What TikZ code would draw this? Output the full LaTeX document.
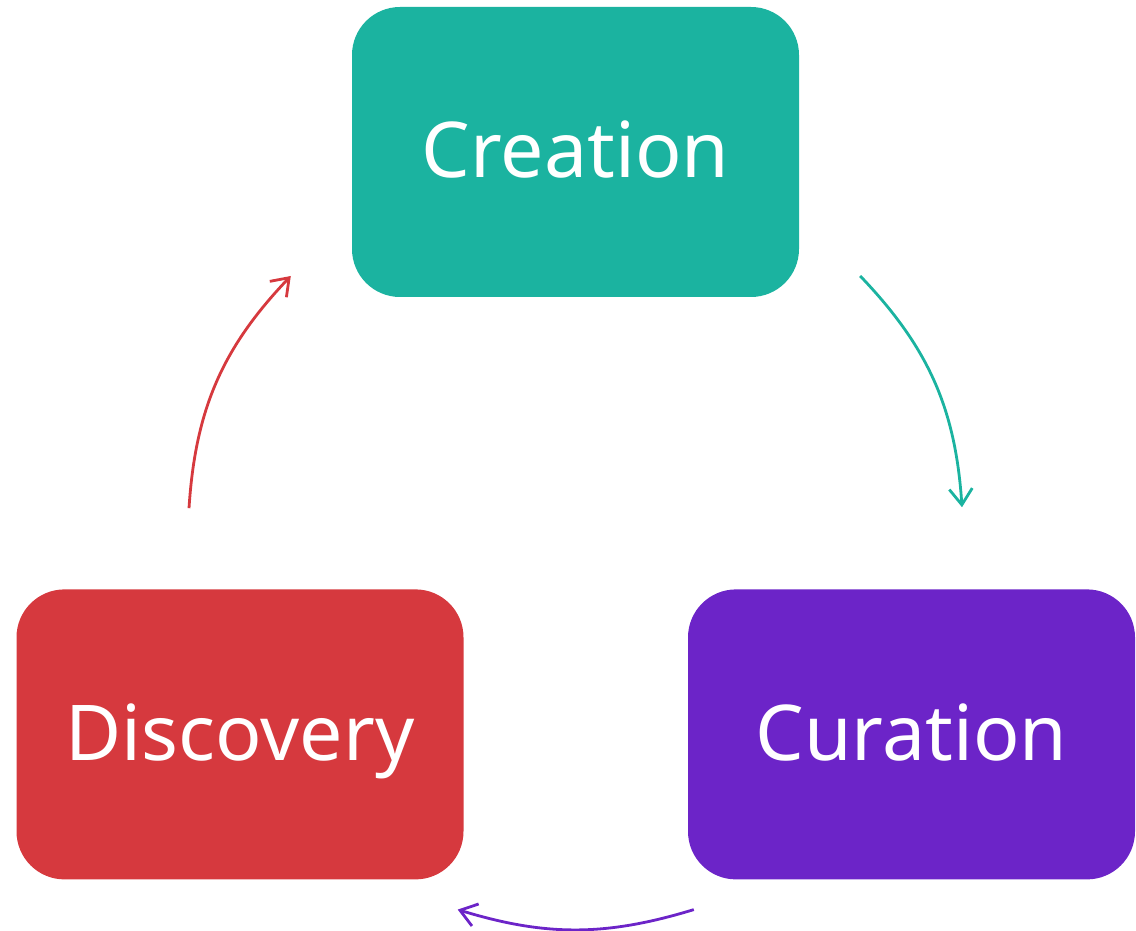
\documentclass[tikz,border=0pt]{standalone}
\usepackage{fontspec}
\setmainfont{Noto Sans}
\usetikzlibrary{arrows.meta, positioning, calc}
\definecolor{creationfill}{RGB}{27,179,160}
\definecolor{discoveryfill}{RGB}{214,57,62}
\definecolor{curationfill}{RGB}{108,36,200}
\tikzset{
    stage/.style={
        rectangle, rounded corners=48pt, draw=none, text=white,
        minimum width=447pt, minimum height=290pt, inner sep=0pt,
        text height=60pt, text depth=8pt,
        font=\fontsize{77}{92}\selectfont
    },
    flow/.style={line width=2.8pt, -{Straight Barb[length=16pt, width=23pt, line width=2.8pt]}}
}
\begin{document}
\begin{tikzpicture}[x=1pt, y=1pt]
\useasboundingbox (0,0) rectangle (1136,930);

% Stages
\node[stage, fill=creationfill] (creation) at (575.5,778) {Creation};
\node[stage, fill=discoveryfill, below=292pt of creation, xshift=-335.5pt] (discovery) {Discovery};
\node[stage, fill=curationfill, below=292pt of creation, xshift=336pt] (curation) {Curation};

% Arrow ends
\coordinate (creation-out) at ($(creation.east)+(61,-124)$);
\coordinate (curation-in) at ($(curation.north)+(50.5,82)$);
\coordinate (curation-out) at ($(curation.south west)+(6,-30)$);
\coordinate (discovery-in) at ($(discovery.south east)+(-6,-30)$);
\coordinate (discovery-out) at ($(discovery.north)+(-51,81)$);
\coordinate (creation-in) at ($(creation.west)+(-61,-124)$);

% Cycle
\draw[flow, creationfill] (creation-out) to[bend left=20] (curation-in);
\draw[flow, curationfill] (curation-out) to[bend left=17] (discovery-in);
\draw[flow, discoveryfill] (discovery-out) to[bend left=20] (creation-in);

\end{tikzpicture}
\end{document}
